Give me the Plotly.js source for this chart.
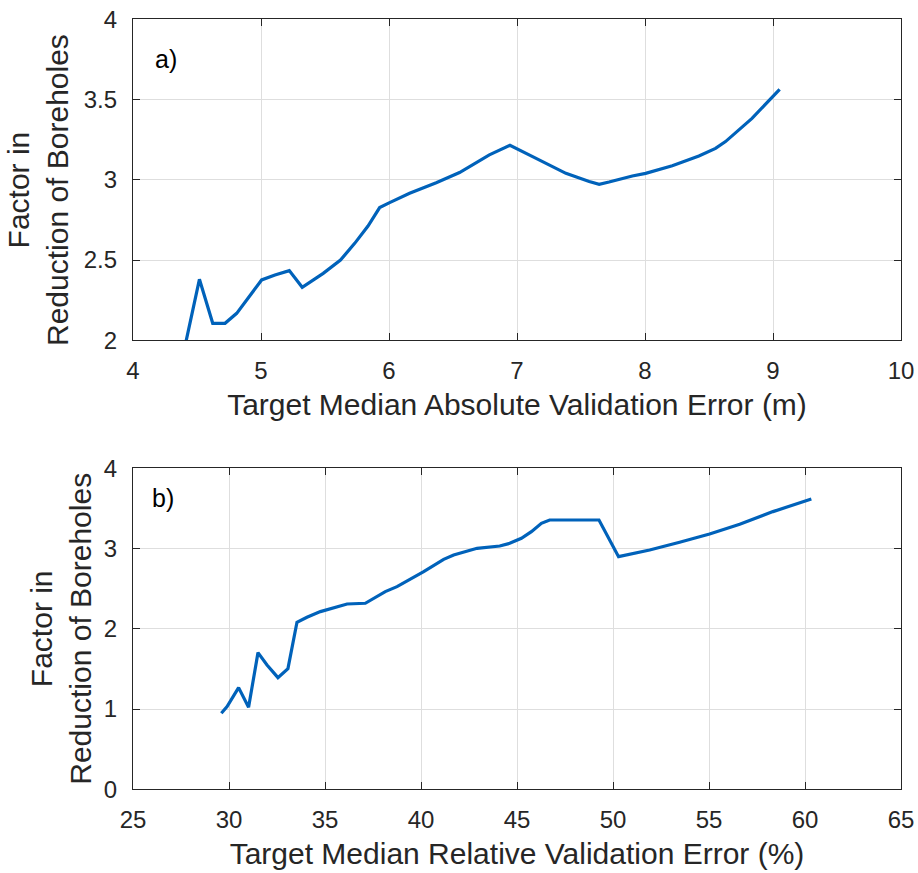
<!DOCTYPE html>
<html>
<head>
<meta charset="utf-8">
<script src="https://cdn.plot.ly/plotly-3.0.1.min.js"></script>
<style>html,body{margin:0;padding:0;background:#fff;}#chart{width:918px;height:873px;}</style>
</head>
<body>
<div id="chart"></div>
<script>
// Panel a) Target median absolute validation error (m) vs factor in reduction of boreholes
const absError = [4.416, 4.519, 4.623, 4.719, 4.81, 5.005, 5.109, 5.221, 5.322, 5.486, 5.621, 5.732, 5.836, 5.927, 6.005, 6.161, 6.369, 6.551, 6.784, 6.945, 7.122, 7.382, 7.564, 7.642, 7.719, 7.901, 8.005, 8.213, 8.421, 8.551, 8.629, 8.73, 8.836, 8.94, 9.052];
const absFactor = [2.0, 2.38, 2.106, 2.106, 2.168, 2.376, 2.407, 2.434, 2.33, 2.417, 2.5, 2.604, 2.712, 2.827, 2.858, 2.916, 2.982, 3.045, 3.155, 3.215, 3.144, 3.04, 2.989, 2.972, 2.986, 3.024, 3.04, 3.088, 3.148, 3.196, 3.238, 3.306, 3.383, 3.47, 3.564];

// Panel b) Target median relative validation error (%) vs factor in reduction of boreholes
const relError = [29.6, 29.9, 30.5, 31.02, 31.51, 31.98, 32.55, 33.07, 33.54, 34.06, 34.76, 35.45, 36.15, 37.1, 37.53, 38.14, 38.75, 39.44, 40.14, 41.18, 41.7, 42.92, 44.1, 44.62, 45.23, 45.75, 46.27, 46.7, 49.27, 50.29, 51.91, 53.47, 55.03, 56.6, 58.33, 60.33];
const relFactor = [0.947, 1.03, 1.267, 1.022, 1.703, 1.549, 1.391, 1.504, 2.081, 2.143, 2.214, 2.264, 2.309, 2.318, 2.38, 2.463, 2.525, 2.617, 2.712, 2.866, 2.92, 3.003, 3.032, 3.065, 3.128, 3.211, 3.315, 3.356, 3.356, 2.899, 2.982, 3.078, 3.182, 3.302, 3.46, 3.618];

const xTicksA = [4, 5, 6, 7, 8, 9, 10];
const yTicksA = [2, 2.5, 3, 3.5, 4];
const xTicksB = [25, 30, 35, 40, 45, 50, 55, 60, 65];
const yTicksB = [0, 1, 2, 3, 4];

const xTitleA = 'Target Median Absolute Validation Error (m)';
const xTitleB = 'Target Median Relative Validation Error (%)';
const yTitle = 'Factor in<br>Reduction of Boreholes';
const panelLabels = ['a)', 'b)'];

const FONT = 'Liberation Sans, Arial, Helvetica, sans-serif';
const INK = '#262626';
const LINE = '#0062BA';

function axisBase(extra) {
  return Object.assign({
    showline: true, linecolor: INK, linewidth: 1.3, mirror: 'ticks',
    ticks: 'inside', ticklen: 7, tickwidth: 1, tickcolor: INK,
    showgrid: true, gridcolor: '#dedede', gridwidth: 1,
    zeroline: false, fixedrange: true,
    tickfont: {family: FONT, size: 24, color: INK},
    automargin: false
  }, extra);
}

const traces = [
  {x: absError, y: absFactor, type: 'scatter', mode: 'lines', xaxis: 'x', yaxis: 'y',
   line: {color: LINE, width: 3.2}, hoverinfo: 'x+y'},
  {x: relError, y: relFactor, type: 'scatter', mode: 'lines', xaxis: 'x2', yaxis: 'y2',
   line: {color: LINE, width: 3.2}, hoverinfo: 'x+y'}
];

const layout = {
  width: 918, height: 873,
  margin: {l: 0, r: 0, t: 0, b: 0},
  paper_bgcolor: '#ffffff', plot_bgcolor: '#ffffff',
  showlegend: false,
  font: {family: FONT, color: INK},
  xaxis: axisBase({domain: [133/918, 901/918], anchor: 'y', range: [4, 10], tickvals: xTicksA,
    ticklabelstandoff: 9,
    title: {text: xTitleA, font: {family: FONT, size: 30, color: INK}, standoff: 10}}),
  yaxis: axisBase({domain: [1 - 340.3/873, 1 - 19.3/873], anchor: 'x', range: [2, 4], tickvals: yTicksA,
    ticklabelstandoff: 10}),
  xaxis2: axisBase({domain: [133/918, 901/918], anchor: 'y2', range: [25, 65], tickvals: xTicksB,
    ticklabelstandoff: 9,
    title: {text: xTitleB, font: {family: FONT, size: 30, color: INK}, standoff: 10}}),
  yaxis2: axisBase({domain: [1 - 789.3/873, 1 - 468.3/873], anchor: 'x2', range: [0, 4], tickvals: yTicksB,
    ticklabelstandoff: 10,
    title: {text: yTitle, font: {family: FONT, size: 30, color: INK}, standoff: 3}}),
  annotations: [
    {text: yTitle, xref: 'paper', yref: 'paper', x: 38/918, y: 1 - 190/873, xanchor: 'center', yanchor: 'middle',
     textangle: -90, showarrow: false, font: {family: FONT, size: 30, color: INK}},
    {text: panelLabels[0], xref: 'x domain', yref: 'y domain', x: 0.026, y: 0.875, xanchor: 'left', yanchor: 'middle',
     showarrow: false, font: {family: FONT, size: 25, color: '#000'}},
    {text: panelLabels[1], xref: 'x2 domain', yref: 'y2 domain', x: 0.022, y: 0.907, xanchor: 'left', yanchor: 'middle',
     showarrow: false, font: {family: FONT, size: 25, color: '#000'}}
  ]
};

Plotly.newPlot('chart', traces, layout, {displayModeBar: false, staticPlot: false, responsive: false});
</script>
</body>
</html>
